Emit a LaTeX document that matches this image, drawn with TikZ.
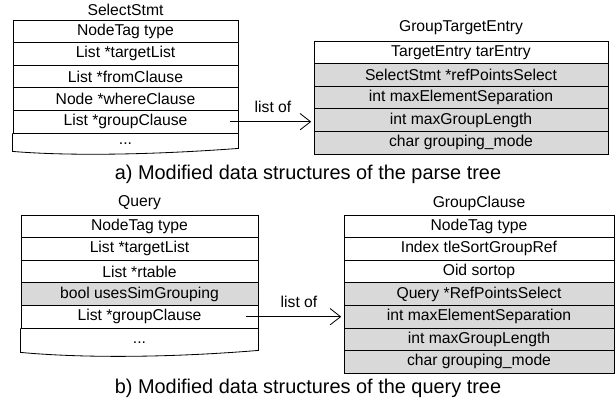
\documentclass[tikz,border=0pt]{standalone}
\usepackage{fontspec}
\setmainfont{Liberation Sans}
\usetikzlibrary{arrows.meta, calc}

\begin{document}
\begin{tikzpicture}[
    x=0.03cm, y=-0.03cm, line width=0.7pt,
    field/.style={draw, rectangle, inner sep=0pt, minimum width=#1, minimum height=0.678cm, fill=white, font=\fontsize{13.4}{15}\selectfont},
    newfield/.style={field=#1, fill=black!15},
    title/.style={font=\fontsize{13.4}{15}\selectfont},
    caption/.style={font=\fontsize{17}{20}\selectfont},
    ptr/.style={-{Straight Barb[length=9pt, width=14pt, line width=0.7pt]}, shorten >=2pt}
]
    \useasboundingbox (0,0) rectangle (616,406);

    % ================= SELECTSTMT =================
    \node[title] (ss_title) at (125.5,10) {SelectStmt};
    \node[field=6.75cm] (ss1) at (125.5,31.3) {NodeTag type};
    \node[field=6.75cm] (ss2) at (125.5,53.9) {List *targetList};
    \node[field=6.75cm] (ss3) at (125.5,76.5) {List *fromClause};
    \node[field=6.75cm] (ss4) at (125.5,99.1) {Node *whereClause};
    \node[field=6.75cm] (ss5) at (125.5,121.7) {List *groupClause};
    \node[title] (ss_more) at (125.5,144) {...};
    \draw (ss5.south west) -- ($(ss5.south west)+(0,18)$)
        .. controls +(60,5) and +(-80,6) .. ($(ss5.south east)+(0,15)$) -- (ss5.south east);

    % ================= GROUPTARGETENTRY =================
    \node[title] (gte_title) at (461,28) {GroupTargetEntry};
    \node[field=8.82cm] (gte1) at (461,52.3) {TargetEntry tarEntry};
    \node[newfield=8.82cm] (gte2) at (461,74.9) {SelectStmt *refPointsSelect};
    \node[newfield=8.82cm] (gte3) at (461,97.5) {int maxElementSeparation};
    \node[newfield=8.82cm] (gte4) at (461,120.1) {int maxGroupLength};
    \node[newfield=8.82cm] (gte5) at (461,142.7) {char grouping\_mode};

    % list of
    \coordinate (ss_ptr) at (230,121.7);
    \draw[ptr] (ss_ptr) -- (ss_ptr -| gte4.west);
    \node[title] (ss_lbl) at (273,107) {list of};

    \node[caption] (cap_a) at (308,174) {a) Modified data structures of the parse tree};

    % ================= QUERY =================
    \node[title] (q_title) at (139.5,203) {Query};
    \node[field=7.11cm] (q1) at (139.5,226.3) {NodeTag type};
    \node[field=7.11cm] (q2) at (139.5,248.9) {List *targetList};
    \node[field=7.11cm] (q3) at (139.5,271.5) {List *rtable};
    \node[newfield=7.11cm] (q4) at (139.5,294.1) {bool usesSimGrouping};
    \node[field=7.11cm] (q5) at (139.5,316.7) {List *groupClause};
    \node[title] (q_more) at (139.5,343) {...};
    \draw (q5.south west) -- ($(q5.south west)+(0,24)$)
        .. controls +(65,6) and +(-85,7) .. ($(q5.south east)+(0,22)$) -- (q5.south east);

    % ================= GROUPCLAUSE =================
    \node[title] (gc_title) at (479,203) {GroupClause};
    \node[field=8.1cm] (gc1) at (479,226.3) {NodeTag type};
    \node[field=8.1cm] (gc2) at (479,248.9) {Index tleSortGroupRef};
    \node[field=8.1cm] (gc3) at (479,271.5) {Oid sortop};
    \node[newfield=8.1cm] (gc4) at (479,294.1) {Query *RefPointsSelect};
    \node[newfield=8.1cm] (gc5) at (479,316.7) {int maxElementSeparation};
    \node[newfield=8.1cm] (gc6) at (479,339.3) {int maxGroupLength};
    \node[newfield=8.1cm] (gc7) at (479,361.9) {char grouping\_mode};

    % list of
    \coordinate (q_ptr) at (246,316.7);
    \draw[ptr] (q_ptr) -- (q_ptr -| gc5.west);
    \node[title] (q_lbl) at (299,302) {list of};

    \node[caption] (cap_b) at (308,388) {b) Modified data structures of the query tree};

\end{tikzpicture}
\end{document}
